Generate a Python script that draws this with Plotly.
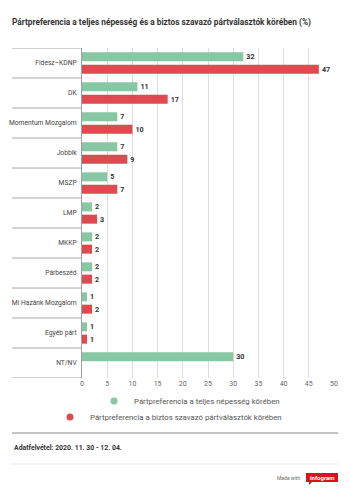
import plotly.graph_objects as go

# ---- data ----
categories = ["Fidesz–KDNP", "DK", "Momentum Mozgalom", "Jobbik", "MSZP", "LMP",
              "MKKP", "Párbeszéd", "Mi Hazánk Mozgalom", "Egyéb párt", "NT/NV"]
total_population = [32, 11, 7, 7, 5, 2, 2, 2, 1, 1, 30]
sure_voters = [47, 17, 10, 9, 7, 3, 2, 2, 2, 1, None]
series_names = ["Pártpreferencia a teljes népesség körében",
                "Pártpreferencia a biztos szavazó pártválasztók körében"]
x_tick_values = [0, 5, 10, 15, 20, 25, 30, 35, 40, 45, 50]
title_text = "Pártpreferencia a teljes népesség és a biztos szavazó pártválasztók körében (%)"
footer_text = "Adatfelvétel: 2020. 11. 30 - 12. 04."

# ---- style ----
GREEN = "#88c7a3"
RED = "#de4a4f"
FONT = "Roboto"
W, H = 350, 495
ML, MR, MT, MB = 82, 16, 48, 117
PW, PH = W - ML - MR, H - MT - MB


def px(xp):
    return (xp - ML) / PW


def py(yp):
    return (H - MB - yp) / PH


fig = go.Figure()
for vals, color in [(total_population, GREEN), (sure_voters, RED)]:
    fig.add_trace(go.Bar(
        y=categories, x=vals, orientation="h", marker_color=color,
        marker_line_width=0,
        text=[("" if v is None else str(v)) for v in vals],
        textposition="outside", cliponaxis=False,
        textfont=dict(family=FONT, size=7.2, color="#333333", weight="bold"),
        showlegend=False, hoverinfo="skip"))

for name, color, lg in [(series_names[0], GREEN, "legend"), (series_names[1], RED, "legend2")]:
    fig.add_trace(go.Scatter(x=[None], y=[None], mode="markers", name=name,
                             marker=dict(symbol="circle", size=7, color=color),
                             legend=lg, showlegend=True))

shapes = []
n = len(categories)
for i in range(n + 1):
    shapes.append(dict(type="line", xref="paper", yref="y", x0=px(12), x1=0,
                       y0=i - 0.5, y1=i - 0.5, line=dict(color="#a8a8a8", width=1)))
# footer lines
shapes.append(dict(type="line", xref="paper", yref="paper", x0=px(12), x1=px(338),
                   y0=py(433), y1=py(433), line=dict(color="#c4c4c4", width=2)))
shapes.append(dict(type="line", xref="paper", yref="paper", x0=px(12), x1=px(338),
                   y0=py(464), y1=py(464), line=dict(color="#ececec", width=1)))
# infogram badge
shapes.append(dict(type="rect", xref="paper", yref="paper", x0=px(306), x1=px(338),
                   y0=py(482), y1=py(473), fillcolor="#d9141c", line_width=0))
shapes.append(dict(type="path", xref="paper", yref="paper",
                   path=f"M {px(309)} {py(482)} L {px(312)} {py(482)} L {px(309)} {py(485)} Z",
                   fillcolor="#d9141c", line_width=0))

annotations = [
    dict(text=footer_text, xref="paper", yref="paper", x=px(12), y=py(448),
         xanchor="left", yanchor="middle", showarrow=False,
         font=dict(family=FONT, size=6.9, color="#333333", weight="bold")),
    dict(text="Made with", xref="paper", yref="paper", x=px(302), y=py(478),
         xanchor="right", yanchor="middle", showarrow=False,
         font=dict(family=FONT, size=5, color="#666666")),
    dict(text="infogram", xref="paper", yref="paper", x=px(322), y=py(477.5),
         xanchor="center", yanchor="middle", showarrow=False,
         font=dict(family=FONT, size=6, color="#ffffff", weight="bold")),
]

fig.update_layout(
    width=W, height=H,
    margin=dict(l=ML, r=MR, t=MT, b=MB, pad=0, autoexpand=False),
    paper_bgcolor="white", plot_bgcolor="white",
    font=dict(family=FONT, size=8, color="#444444"),
    title=dict(text=title_text, x=12 / W, xref="container", xanchor="left",
               y=1 - 22 / H, yref="container", yanchor="middle",
               font=dict(family=FONT, size=8.3, color="#333333", weight="bold")),
    barmode="group", bargap=0.18, bargroupgap=0.268,
    xaxis=dict(range=[0, 50], tickvals=x_tick_values, showgrid=True,
               gridcolor="#dedede", gridwidth=1, zeroline=False, showline=False,
               ticks="", tickfont=dict(family=FONT, size=7, color="#666666"),
               fixedrange=True, automargin=False),
    yaxis=dict(type="category", categoryorder="array", categoryarray=categories,
               range=[n - 0.5, -0.5], showgrid=False, zeroline=False,
               showline=True, linecolor="#a0a0a0", linewidth=1, ticks="",
               ticklabelstandoff=3,
               tickfont=dict(family=FONT, size=6.7, color="#444444"), fixedrange=True,
               automargin=False),
    legend=dict(xref="container", yref="container", x=94 / W, xanchor="left",
                y=1 - 401 / H, yanchor="middle", orientation="h",
                font=dict(family=FONT, size=7.8, color="#555555"),
                bgcolor="rgba(0,0,0,0)", itemwidth=30),
    legend2=dict(xref="container", yref="container", x=50 / W, xanchor="left",
                 y=1 - 417 / H, yanchor="middle", orientation="h",
                 font=dict(family=FONT, size=7.8, color="#555555"),
                 bgcolor="rgba(0,0,0,0)", itemwidth=30),
    shapes=shapes, annotations=annotations,
)

fig.write_html("out.html")
